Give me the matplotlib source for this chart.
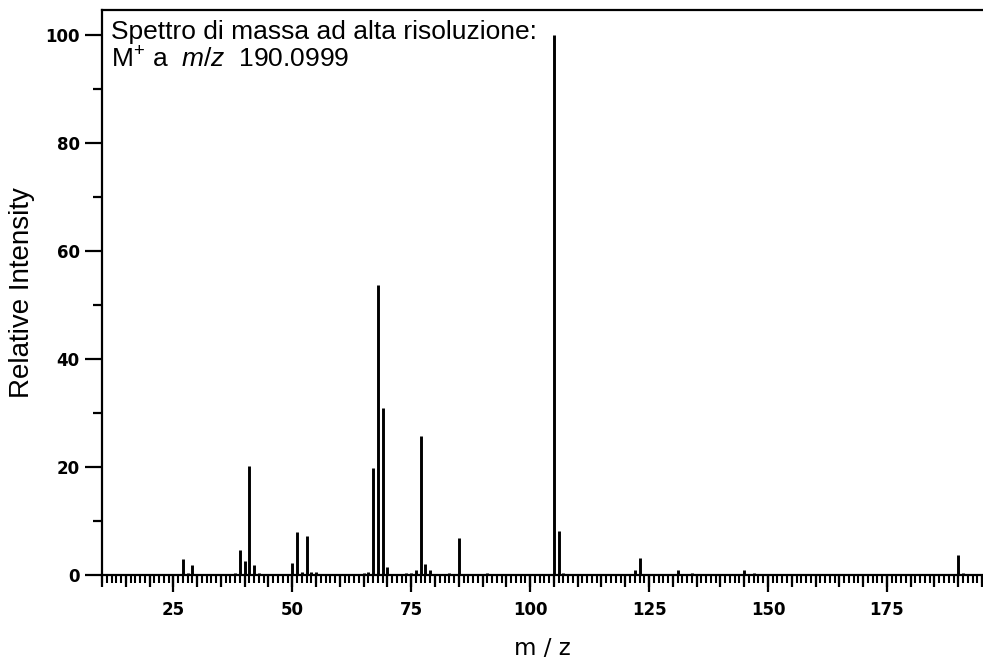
import matplotlib
matplotlib.use("Agg")
import matplotlib.pyplot as plt
from matplotlib.ticker import MultipleLocator, NullFormatter

# ---- data ----
mz = [26, 27, 28, 29, 38, 39, 40, 41, 42, 43, 44, 49, 50, 51, 52, 53, 54, 55, 56,
      65, 66, 67, 68, 69, 70, 74, 75, 76, 77, 78, 79, 83, 85, 86, 91,
      104, 105, 106, 107, 117, 122, 123, 124, 129, 131, 132, 134,
      143, 145, 147, 148, 157, 161, 172, 190, 191]
intensity = [0.2, 2.9, 0.4, 1.9, 0.4, 4.6, 2.6, 20.2, 1.8, 0.4, 0.1, 0.1, 2.3, 7.9, 0.6, 7.3, 0.6, 0.6, 0.1,
             0.3, 0.6, 19.8, 53.6, 31.0, 1.4, 0.3, 0.3, 0.9, 25.7, 2.0, 0.9, 0.3, 6.8, 0.25, 0.4,
             0.2, 100.0, 8.2, 0.4, 0.2, 0.9, 3.1, 0.2, 0.2, 0.9, 0.2, 0.3,
             0.2, 0.9, 0.3, 0.2, 0.15, 0.15, 0.15, 3.7, 0.3]
x_major_ticks = [25, 50, 75, 100, 125, 150, 175]
y_major_ticks = [0, 20, 40, 60, 80, 100]
title_line1 = "Spettro di massa ad alta risoluzione:"
title_line2 = r"M$^{+}$ a  $\mathit{m/z}$  190.0999"

plt.rcParams['mathtext.fontset'] = 'custom'
plt.rcParams['mathtext.rm'] = 'Liberation Sans'
plt.rcParams['mathtext.it'] = 'Liberation Sans:italic'

fig = plt.figure(figsize=(9.83, 6.66), dpi=100)
ax = fig.add_axes([102/983, 1 - 575/666, 1 - 102/983, (575 - 10)/666])

ax.vlines(mz, 0, intensity, colors='black', linewidth=2.1)

ax.set_xlim(10, 195.2)
ax.set_ylim(0, 104.6)

for s in ['left', 'top', 'bottom']:
    ax.spines[s].set_linewidth(1.6)
ax.spines['right'].set_visible(False)

ax.set_xticks(x_major_ticks)
ax.xaxis.set_minor_locator(MultipleLocator(1))
ax.set_yticks(y_major_ticks)
ax.yaxis.set_minor_locator(MultipleLocator(10))

ax.tick_params(axis='x', which='major', direction='out', length=12, width=1.6, pad=7,
               labelsize=12)
ax.tick_params(axis='x', which='minor', direction='out', length=5.5, width=1.5)
ax.tick_params(axis='y', which='major', direction='out', length=12, width=1.6, pad=4,
               labelsize=12)
ax.tick_params(axis='y', which='minor', direction='out', length=6.5, width=1.6)
for lbl in ax.get_xticklabels() + ax.get_yticklabels():
    lbl.set_fontweight('bold')
    lbl.set_family('DejaVu Sans')

# medium ticks every 5 units
sec = ax.secondary_xaxis(0)
sec.xaxis.set_major_locator(MultipleLocator(5))
sec.xaxis.set_major_formatter(NullFormatter())
sec.tick_params(axis='x', which='major', direction='out', length=8.5, width=1.6)
sec.spines['bottom'].set_visible(False)

ax.set_xlabel("m / z", fontsize=16.5, family='DejaVu Sans')
ax.xaxis.set_label_coords(0.5, -0.11)
ax.set_ylabel("Relative Intensity", fontsize=20, family='Liberation Sans')
ax.yaxis.set_label_coords(-0.076, 0.5)

ax.text(111/983, 1 - 38.5/666, title_line1, transform=fig.transFigure, fontsize=19,
        family='Liberation Sans', ha='left', va='baseline')
ax.text(111/983, 1 - 67/666, title_line2, transform=fig.transFigure, fontsize=19,
        family='Liberation Sans', ha='left', va='baseline')

fig.savefig("out.png", dpi=100)
